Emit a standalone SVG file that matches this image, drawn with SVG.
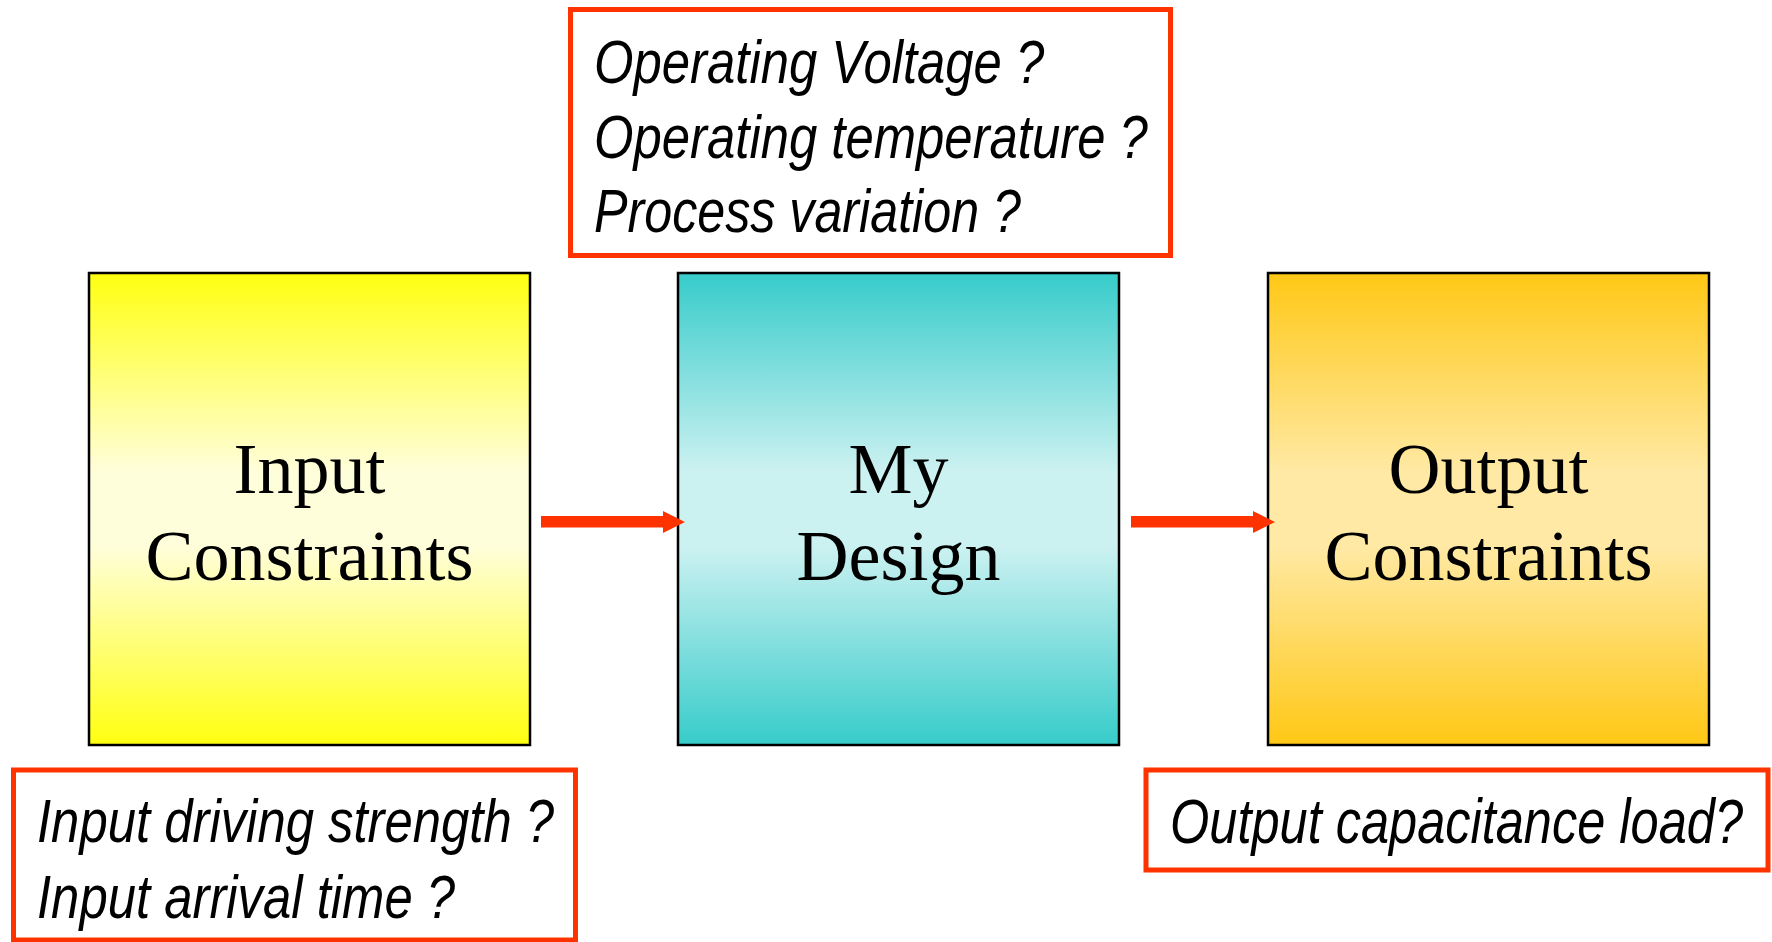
<svg xmlns="http://www.w3.org/2000/svg" width="1772" height="942" viewBox="0 0 1772 942">
<defs>
<linearGradient id="gYellow" x1="0" y1="0" x2="0" y2="1">
<stop offset="0" stop-color="#FFFF10"/>
<stop offset="0.42" stop-color="#FFFEDA"/>
<stop offset="0.58" stop-color="#FFFEDA"/>
<stop offset="1" stop-color="#FFFF10"/>
</linearGradient>
<linearGradient id="gTeal" x1="0" y1="0" x2="0" y2="1">
<stop offset="0" stop-color="#36CCCA"/>
<stop offset="0.42" stop-color="#CCF1F1"/>
<stop offset="0.58" stop-color="#CCF1F1"/>
<stop offset="1" stop-color="#36CCCA"/>
</linearGradient>
<linearGradient id="gGold" x1="0" y1="0" x2="0" y2="1">
<stop offset="0" stop-color="#FFC815"/>
<stop offset="0.42" stop-color="#FFE9A4"/>
<stop offset="0.58" stop-color="#FFE9A4"/>
<stop offset="1" stop-color="#FFC815"/>
</linearGradient>
</defs>
<style>
.blk{stroke:#000;stroke-width:2.5}
.note{fill:#fff;stroke:#FF3300;stroke-width:5}
.it{font-family:"Liberation Sans",Arial,sans-serif;font-style:italic;font-size:62px;fill:#000}
.lbl{font-family:"Liberation Serif","Times New Roman",serif;font-size:72px;fill:#000;text-anchor:middle}
.arr{fill:#FF3300}
</style>
<rect width="1772" height="942" fill="#fff"/>
<g id="node-input">
<rect class="blk" x="89" y="273" width="441" height="472" fill="url(#gYellow)"/>
<text class="lbl" x="309.5" y="493">Input</text>
<text class="lbl" x="309.5" y="580">Constraints</text>
</g>
<g id="node-design">
<rect class="blk" x="678" y="273" width="441" height="472" fill="url(#gTeal)"/>
<text class="lbl" x="898.5" y="493">My</text>
<text class="lbl" x="898.5" y="580">Design</text>
</g>
<g id="node-output">
<rect class="blk" x="1268" y="273" width="441" height="472" fill="url(#gGold)"/>
<text class="lbl" x="1488.5" y="493">Output</text>
<text class="lbl" x="1488.5" y="580">Constraints</text>
</g>
<g id="note-operating">
<rect class="note" x="570.5" y="9.5" width="600" height="246"/>
<text class="it" transform="translate(594,83) scale(0.82,1)">Operating Voltage ?</text>
<text class="it" transform="translate(594,158) scale(0.82,1)">Operating temperature ?</text>
<text class="it" transform="translate(594,232) scale(0.81,1)">Process variation ?</text>
</g>
<g id="note-input">
<rect class="note" x="13.5" y="770" width="562" height="170"/>
<text class="it" transform="translate(37,842) scale(0.82,1)">Input driving strength ?</text>
<text class="it" transform="translate(37,918) scale(0.82,1)">Input arrival time ?</text>
</g>
<g id="note-output">
<rect class="note" x="1146" y="770" width="622" height="100"/>
<text class="it" transform="translate(1170,843) scale(0.815,1)">Output capacitance load?</text>
</g>
<g id="connectors">
<polygon class="arr" points="541,516 663,516 663,511 685,522 663,533 663,527.5 541,527.5"/>
<polygon class="arr" points="1131,516 1253,516 1253,511 1275,522 1253,533 1253,527.5 1131,527.5"/>
</g>
</svg>
